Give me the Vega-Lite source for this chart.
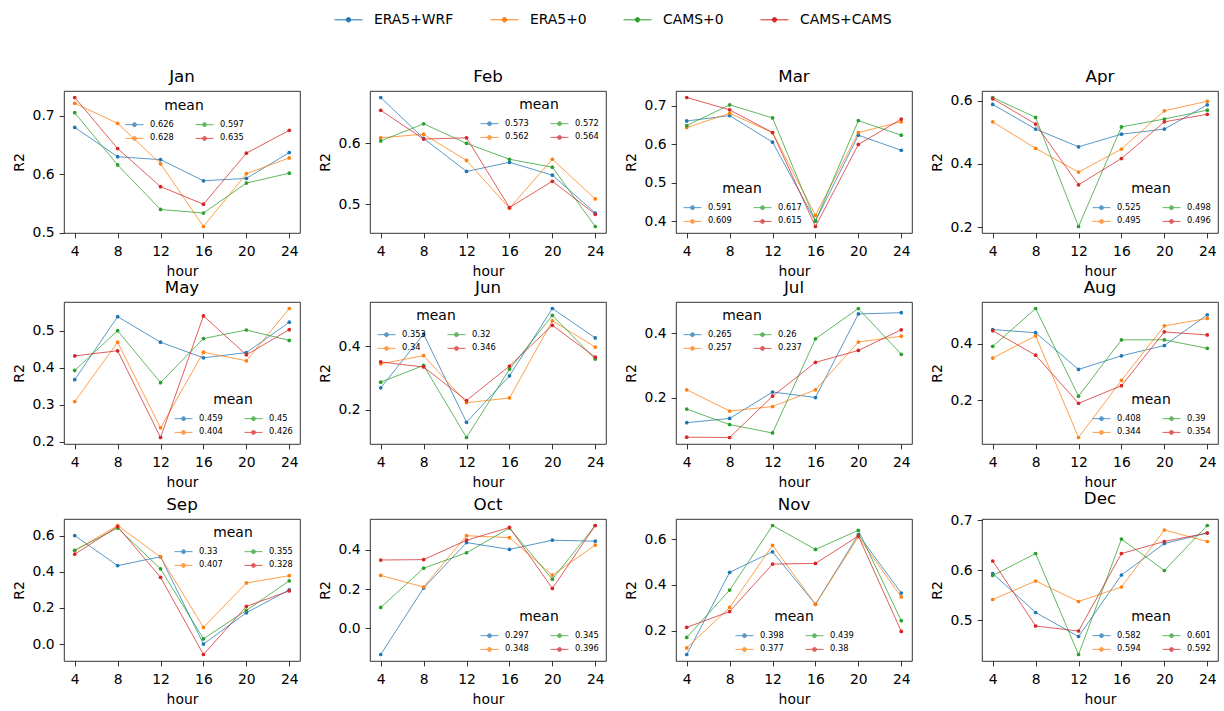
{
"$schema": "https://vega.github.io/schema/vega-lite/v6.json",
"padding": {"left": 11, "top": 0, "right": 0, "bottom": 0},
"background": "white",
"data": {"values": [
{"month":"Jan","series":"ERA5+WRF","hour":4,"R2":0.680},{"month":"Jan","series":"ERA5+WRF","hour":8,"R2":0.630},{"month":"Jan","series":"ERA5+WRF","hour":12,"R2":0.625},{"month":"Jan","series":"ERA5+WRF","hour":16,"R2":0.589},{"month":"Jan","series":"ERA5+WRF","hour":20,"R2":0.593},{"month":"Jan","series":"ERA5+WRF","hour":24,"R2":0.637},
{"month":"Jan","series":"ERA5+0","hour":4,"R2":0.721},{"month":"Jan","series":"ERA5+0","hour":8,"R2":0.687},{"month":"Jan","series":"ERA5+0","hour":12,"R2":0.618},{"month":"Jan","series":"ERA5+0","hour":16,"R2":0.511},{"month":"Jan","series":"ERA5+0","hour":20,"R2":0.601},{"month":"Jan","series":"ERA5+0","hour":24,"R2":0.628},
{"month":"Jan","series":"CAMS+0","hour":4,"R2":0.705},{"month":"Jan","series":"CAMS+0","hour":8,"R2":0.616},{"month":"Jan","series":"CAMS+0","hour":12,"R2":0.540},{"month":"Jan","series":"CAMS+0","hour":16,"R2":0.534},{"month":"Jan","series":"CAMS+0","hour":20,"R2":0.585},{"month":"Jan","series":"CAMS+0","hour":24,"R2":0.602},
{"month":"Jan","series":"CAMS+CAMS","hour":4,"R2":0.731},{"month":"Jan","series":"CAMS+CAMS","hour":8,"R2":0.644},{"month":"Jan","series":"CAMS+CAMS","hour":12,"R2":0.579},{"month":"Jan","series":"CAMS+CAMS","hour":16,"R2":0.549},{"month":"Jan","series":"CAMS+CAMS","hour":20,"R2":0.636},{"month":"Jan","series":"CAMS+CAMS","hour":24,"R2":0.675},
{"month":"Feb","series":"ERA5+WRF","hour":4,"R2":0.675},{"month":"Feb","series":"ERA5+WRF","hour":8,"R2":0.608},{"month":"Feb","series":"ERA5+WRF","hour":12,"R2":0.554},{"month":"Feb","series":"ERA5+WRF","hour":16,"R2":0.569},{"month":"Feb","series":"ERA5+WRF","hour":20,"R2":0.548},{"month":"Feb","series":"ERA5+WRF","hour":24,"R2":0.486},
{"month":"Feb","series":"ERA5+0","hour":4,"R2":0.609},{"month":"Feb","series":"ERA5+0","hour":8,"R2":0.615},{"month":"Feb","series":"ERA5+0","hour":12,"R2":0.572},{"month":"Feb","series":"ERA5+0","hour":16,"R2":0.494},{"month":"Feb","series":"ERA5+0","hour":20,"R2":0.574},{"month":"Feb","series":"ERA5+0","hour":24,"R2":0.509},
{"month":"Feb","series":"CAMS+0","hour":4,"R2":0.604},{"month":"Feb","series":"CAMS+0","hour":8,"R2":0.632},{"month":"Feb","series":"CAMS+0","hour":12,"R2":0.600},{"month":"Feb","series":"CAMS+0","hour":16,"R2":0.574},{"month":"Feb","series":"CAMS+0","hour":20,"R2":0.561},{"month":"Feb","series":"CAMS+0","hour":24,"R2":0.464},
{"month":"Feb","series":"CAMS+CAMS","hour":4,"R2":0.654},{"month":"Feb","series":"CAMS+CAMS","hour":8,"R2":0.607},{"month":"Feb","series":"CAMS+CAMS","hour":12,"R2":0.609},{"month":"Feb","series":"CAMS+CAMS","hour":16,"R2":0.495},{"month":"Feb","series":"CAMS+CAMS","hour":20,"R2":0.538},{"month":"Feb","series":"CAMS+CAMS","hour":24,"R2":0.484},
{"month":"Mar","series":"ERA5+WRF","hour":4,"R2":0.660},{"month":"Mar","series":"ERA5+WRF","hour":8,"R2":0.674},{"month":"Mar","series":"ERA5+WRF","hour":12,"R2":0.605},{"month":"Mar","series":"ERA5+WRF","hour":16,"R2":0.400},{"month":"Mar","series":"ERA5+WRF","hour":20,"R2":0.623},{"month":"Mar","series":"ERA5+WRF","hour":24,"R2":0.584},
{"month":"Mar","series":"ERA5+0","hour":4,"R2":0.643},{"month":"Mar","series":"ERA5+0","hour":8,"R2":0.680},{"month":"Mar","series":"ERA5+0","hour":12,"R2":0.630},{"month":"Mar","series":"ERA5+0","hour":16,"R2":0.415},{"month":"Mar","series":"ERA5+0","hour":20,"R2":0.630},{"month":"Mar","series":"ERA5+0","hour":24,"R2":0.658},
{"month":"Mar","series":"CAMS+0","hour":4,"R2":0.648},{"month":"Mar","series":"CAMS+0","hour":8,"R2":0.702},{"month":"Mar","series":"CAMS+0","hour":12,"R2":0.668},{"month":"Mar","series":"CAMS+0","hour":16,"R2":0.400},{"month":"Mar","series":"CAMS+0","hour":20,"R2":0.661},{"month":"Mar","series":"CAMS+0","hour":24,"R2":0.623},
{"month":"Mar","series":"CAMS+CAMS","hour":4,"R2":0.721},{"month":"Mar","series":"CAMS+CAMS","hour":8,"R2":0.689},{"month":"Mar","series":"CAMS+CAMS","hour":12,"R2":0.630},{"month":"Mar","series":"CAMS+CAMS","hour":16,"R2":0.386},{"month":"Mar","series":"CAMS+CAMS","hour":20,"R2":0.599},{"month":"Mar","series":"CAMS+CAMS","hour":24,"R2":0.665},
{"month":"Apr","series":"ERA5+WRF","hour":4,"R2":0.588},{"month":"Apr","series":"ERA5+WRF","hour":8,"R2":0.510},{"month":"Apr","series":"ERA5+WRF","hour":12,"R2":0.454},{"month":"Apr","series":"ERA5+WRF","hour":16,"R2":0.494},{"month":"Apr","series":"ERA5+WRF","hour":20,"R2":0.510},{"month":"Apr","series":"ERA5+WRF","hour":24,"R2":0.587},
{"month":"Apr","series":"ERA5+0","hour":4,"R2":0.533},{"month":"Apr","series":"ERA5+0","hour":8,"R2":0.449},{"month":"Apr","series":"ERA5+0","hour":12,"R2":0.374},{"month":"Apr","series":"ERA5+0","hour":16,"R2":0.447},{"month":"Apr","series":"ERA5+0","hour":20,"R2":0.568},{"month":"Apr","series":"ERA5+0","hour":24,"R2":0.598},
{"month":"Apr","series":"CAMS+0","hour":4,"R2":0.610},{"month":"Apr","series":"CAMS+0","hour":8,"R2":0.547},{"month":"Apr","series":"CAMS+0","hour":12,"R2":0.202},{"month":"Apr","series":"CAMS+0","hour":16,"R2":0.517},{"month":"Apr","series":"CAMS+0","hour":20,"R2":0.542},{"month":"Apr","series":"CAMS+0","hour":24,"R2":0.570},
{"month":"Apr","series":"CAMS+CAMS","hour":4,"R2":0.606},{"month":"Apr","series":"CAMS+CAMS","hour":8,"R2":0.526},{"month":"Apr","series":"CAMS+CAMS","hour":12,"R2":0.334},{"month":"Apr","series":"CAMS+CAMS","hour":16,"R2":0.417},{"month":"Apr","series":"CAMS+CAMS","hour":20,"R2":0.533},{"month":"Apr","series":"CAMS+CAMS","hour":24,"R2":0.557},
{"month":"May","series":"ERA5+WRF","hour":4,"R2":0.368},{"month":"May","series":"ERA5+WRF","hour":8,"R2":0.538},{"month":"May","series":"ERA5+WRF","hour":12,"R2":0.469},{"month":"May","series":"ERA5+WRF","hour":16,"R2":0.427},{"month":"May","series":"ERA5+WRF","hour":20,"R2":0.441},{"month":"May","series":"ERA5+WRF","hour":24,"R2":0.523},
{"month":"May","series":"ERA5+0","hour":4,"R2":0.309},{"month":"May","series":"ERA5+0","hour":8,"R2":0.469},{"month":"May","series":"ERA5+0","hour":12,"R2":0.238},{"month":"May","series":"ERA5+0","hour":16,"R2":0.442},{"month":"May","series":"ERA5+0","hour":20,"R2":0.419},{"month":"May","series":"ERA5+0","hour":24,"R2":0.560},
{"month":"May","series":"CAMS+0","hour":4,"R2":0.393},{"month":"May","series":"CAMS+0","hour":8,"R2":0.500},{"month":"May","series":"CAMS+0","hour":12,"R2":0.360},{"month":"May","series":"CAMS+0","hour":16,"R2":0.479},{"month":"May","series":"CAMS+0","hour":20,"R2":0.502},{"month":"May","series":"CAMS+0","hour":24,"R2":0.474},
{"month":"May","series":"CAMS+CAMS","hour":4,"R2":0.432},{"month":"May","series":"CAMS+CAMS","hour":8,"R2":0.446},{"month":"May","series":"CAMS+CAMS","hour":12,"R2":0.212},{"month":"May","series":"CAMS+CAMS","hour":16,"R2":0.540},{"month":"May","series":"CAMS+CAMS","hour":20,"R2":0.435},{"month":"May","series":"CAMS+CAMS","hour":24,"R2":0.503},
{"month":"Jun","series":"ERA5+WRF","hour":4,"R2":0.269},{"month":"Jun","series":"ERA5+WRF","hour":8,"R2":0.439},{"month":"Jun","series":"ERA5+WRF","hour":12,"R2":0.160},{"month":"Jun","series":"ERA5+WRF","hour":16,"R2":0.307},{"month":"Jun","series":"ERA5+WRF","hour":20,"R2":0.520},{"month":"Jun","series":"ERA5+WRF","hour":24,"R2":0.427},
{"month":"Jun","series":"ERA5+0","hour":4,"R2":0.345},{"month":"Jun","series":"ERA5+0","hour":8,"R2":0.371},{"month":"Jun","series":"ERA5+0","hour":12,"R2":0.222},{"month":"Jun","series":"ERA5+0","hour":16,"R2":0.237},{"month":"Jun","series":"ERA5+0","hour":20,"R2":0.481},{"month":"Jun","series":"ERA5+0","hour":24,"R2":0.398},
{"month":"Jun","series":"CAMS+0","hour":4,"R2":0.287},{"month":"Jun","series":"CAMS+0","hour":8,"R2":0.340},{"month":"Jun","series":"CAMS+0","hour":12,"R2":0.112},{"month":"Jun","series":"CAMS+0","hour":16,"R2":0.328},{"month":"Jun","series":"CAMS+0","hour":20,"R2":0.498},{"month":"Jun","series":"CAMS+0","hour":24,"R2":0.360},
{"month":"Jun","series":"CAMS+CAMS","hour":4,"R2":0.351},{"month":"Jun","series":"CAMS+CAMS","hour":8,"R2":0.335},{"month":"Jun","series":"CAMS+CAMS","hour":12,"R2":0.229},{"month":"Jun","series":"CAMS+CAMS","hour":16,"R2":0.338},{"month":"Jun","series":"CAMS+CAMS","hour":20,"R2":0.467},{"month":"Jun","series":"CAMS+CAMS","hour":24,"R2":0.366},
{"month":"Jul","series":"ERA5+WRF","hour":4,"R2":0.122},{"month":"Jul","series":"ERA5+WRF","hour":8,"R2":0.135},{"month":"Jul","series":"ERA5+WRF","hour":12,"R2":0.217},{"month":"Jul","series":"ERA5+WRF","hour":16,"R2":0.200},{"month":"Jul","series":"ERA5+WRF","hour":20,"R2":0.459},{"month":"Jul","series":"ERA5+WRF","hour":24,"R2":0.463},
{"month":"Jul","series":"ERA5+0","hour":4,"R2":0.224},{"month":"Jul","series":"ERA5+0","hour":8,"R2":0.158},{"month":"Jul","series":"ERA5+0","hour":12,"R2":0.172},{"month":"Jul","series":"ERA5+0","hour":16,"R2":0.224},{"month":"Jul","series":"ERA5+0","hour":20,"R2":0.372},{"month":"Jul","series":"ERA5+0","hour":24,"R2":0.390},
{"month":"Jul","series":"CAMS+0","hour":4,"R2":0.164},{"month":"Jul","series":"CAMS+0","hour":8,"R2":0.116},{"month":"Jul","series":"CAMS+0","hour":12,"R2":0.090},{"month":"Jul","series":"CAMS+0","hour":16,"R2":0.382},{"month":"Jul","series":"CAMS+0","hour":20,"R2":0.476},{"month":"Jul","series":"CAMS+0","hour":24,"R2":0.334},
{"month":"Jul","series":"CAMS+CAMS","hour":4,"R2":0.077},{"month":"Jul","series":"CAMS+CAMS","hour":8,"R2":0.076},{"month":"Jul","series":"CAMS+CAMS","hour":12,"R2":0.204},{"month":"Jul","series":"CAMS+CAMS","hour":16,"R2":0.309},{"month":"Jul","series":"CAMS+CAMS","hour":20,"R2":0.346},{"month":"Jul","series":"CAMS+CAMS","hour":24,"R2":0.410},
{"month":"Aug","series":"ERA5+WRF","hour":4,"R2":0.449},{"month":"Aug","series":"ERA5+WRF","hour":8,"R2":0.438},{"month":"Aug","series":"ERA5+WRF","hour":12,"R2":0.309},{"month":"Aug","series":"ERA5+WRF","hour":16,"R2":0.357},{"month":"Aug","series":"ERA5+WRF","hour":20,"R2":0.393},{"month":"Aug","series":"ERA5+WRF","hour":24,"R2":0.501},
{"month":"Aug","series":"ERA5+0","hour":4,"R2":0.349},{"month":"Aug","series":"ERA5+0","hour":8,"R2":0.427},{"month":"Aug","series":"ERA5+0","hour":12,"R2":0.070},{"month":"Aug","series":"ERA5+0","hour":16,"R2":0.271},{"month":"Aug","series":"ERA5+0","hour":20,"R2":0.462},{"month":"Aug","series":"ERA5+0","hour":24,"R2":0.488},
{"month":"Aug","series":"CAMS+0","hour":4,"R2":0.390},{"month":"Aug","series":"CAMS+0","hour":8,"R2":0.523},{"month":"Aug","series":"CAMS+0","hour":12,"R2":0.215},{"month":"Aug","series":"CAMS+0","hour":16,"R2":0.413},{"month":"Aug","series":"CAMS+0","hour":20,"R2":0.413},{"month":"Aug","series":"CAMS+0","hour":24,"R2":0.383},
{"month":"Aug","series":"CAMS+CAMS","hour":4,"R2":0.445},{"month":"Aug","series":"CAMS+CAMS","hour":8,"R2":0.359},{"month":"Aug","series":"CAMS+CAMS","hour":12,"R2":0.190},{"month":"Aug","series":"CAMS+CAMS","hour":16,"R2":0.252},{"month":"Aug","series":"CAMS+CAMS","hour":20,"R2":0.441},{"month":"Aug","series":"CAMS+CAMS","hour":24,"R2":0.430},
{"month":"Sep","series":"ERA5+WRF","hour":4,"R2":0.600},{"month":"Sep","series":"ERA5+WRF","hour":8,"R2":0.434},{"month":"Sep","series":"ERA5+WRF","hour":12,"R2":0.483},{"month":"Sep","series":"ERA5+WRF","hour":16,"R2":0.000},{"month":"Sep","series":"ERA5+WRF","hour":20,"R2":0.173},{"month":"Sep","series":"ERA5+WRF","hour":24,"R2":0.300},
{"month":"Sep","series":"ERA5+0","hour":4,"R2":0.517},{"month":"Sep","series":"ERA5+0","hour":8,"R2":0.656},{"month":"Sep","series":"ERA5+0","hour":12,"R2":0.482},{"month":"Sep","series":"ERA5+0","hour":16,"R2":0.092},{"month":"Sep","series":"ERA5+0","hour":20,"R2":0.338},{"month":"Sep","series":"ERA5+0","hour":24,"R2":0.378},
{"month":"Sep","series":"CAMS+0","hour":4,"R2":0.519},{"month":"Sep","series":"CAMS+0","hour":8,"R2":0.642},{"month":"Sep","series":"CAMS+0","hour":12,"R2":0.416},{"month":"Sep","series":"CAMS+0","hour":16,"R2":0.029},{"month":"Sep","series":"CAMS+0","hour":20,"R2":0.186},{"month":"Sep","series":"CAMS+0","hour":24,"R2":0.350},
{"month":"Sep","series":"CAMS+CAMS","hour":4,"R2":0.497},{"month":"Sep","series":"CAMS+CAMS","hour":8,"R2":0.650},{"month":"Sep","series":"CAMS+CAMS","hour":12,"R2":0.369},{"month":"Sep","series":"CAMS+CAMS","hour":16,"R2":-0.058},{"month":"Sep","series":"CAMS+CAMS","hour":20,"R2":0.208},{"month":"Sep","series":"CAMS+CAMS","hour":24,"R2":0.294},
{"month":"Oct","series":"ERA5+WRF","hour":4,"R2":-0.134},{"month":"Oct","series":"ERA5+WRF","hour":8,"R2":0.205},{"month":"Oct","series":"ERA5+WRF","hour":12,"R2":0.437},{"month":"Oct","series":"ERA5+WRF","hour":16,"R2":0.402},{"month":"Oct","series":"ERA5+WRF","hour":20,"R2":0.449},{"month":"Oct","series":"ERA5+WRF","hour":24,"R2":0.444},
{"month":"Oct","series":"ERA5+0","hour":4,"R2":0.269},{"month":"Oct","series":"ERA5+0","hour":8,"R2":0.210},{"month":"Oct","series":"ERA5+0","hour":12,"R2":0.472},{"month":"Oct","series":"ERA5+0","hour":16,"R2":0.462},{"month":"Oct","series":"ERA5+0","hour":20,"R2":0.271},{"month":"Oct","series":"ERA5+0","hour":24,"R2":0.424},
{"month":"Oct","series":"CAMS+0","hour":4,"R2":0.106},{"month":"Oct","series":"CAMS+0","hour":8,"R2":0.306},{"month":"Oct","series":"CAMS+0","hour":12,"R2":0.385},{"month":"Oct","series":"CAMS+0","hour":16,"R2":0.511},{"month":"Oct","series":"CAMS+0","hour":20,"R2":0.250},{"month":"Oct","series":"CAMS+0","hour":24,"R2":0.524},
{"month":"Oct","series":"CAMS+CAMS","hour":4,"R2":0.348},{"month":"Oct","series":"CAMS+CAMS","hour":8,"R2":0.350},{"month":"Oct","series":"CAMS+CAMS","hour":12,"R2":0.449},{"month":"Oct","series":"CAMS+CAMS","hour":16,"R2":0.514},{"month":"Oct","series":"CAMS+CAMS","hour":20,"R2":0.203},{"month":"Oct","series":"CAMS+CAMS","hour":24,"R2":0.524},
{"month":"Nov","series":"ERA5+WRF","hour":4,"R2":0.095},{"month":"Nov","series":"ERA5+WRF","hour":8,"R2":0.455},{"month":"Nov","series":"ERA5+WRF","hour":12,"R2":0.545},{"month":"Nov","series":"ERA5+WRF","hour":16,"R2":0.315},{"month":"Nov","series":"ERA5+WRF","hour":20,"R2":0.620},{"month":"Nov","series":"ERA5+WRF","hour":24,"R2":0.364},
{"month":"Nov","series":"ERA5+0","hour":4,"R2":0.124},{"month":"Nov","series":"ERA5+0","hour":8,"R2":0.301},{"month":"Nov","series":"ERA5+0","hour":12,"R2":0.573},{"month":"Nov","series":"ERA5+0","hour":16,"R2":0.315},{"month":"Nov","series":"ERA5+0","hour":20,"R2":0.610},{"month":"Nov","series":"ERA5+0","hour":24,"R2":0.347},
{"month":"Nov","series":"CAMS+0","hour":4,"R2":0.170},{"month":"Nov","series":"CAMS+0","hour":8,"R2":0.377},{"month":"Nov","series":"CAMS+0","hour":12,"R2":0.660},{"month":"Nov","series":"CAMS+0","hour":16,"R2":0.555},{"month":"Nov","series":"CAMS+0","hour":20,"R2":0.639},{"month":"Nov","series":"CAMS+0","hour":24,"R2":0.243},
{"month":"Nov","series":"CAMS+CAMS","hour":4,"R2":0.214},{"month":"Nov","series":"CAMS+CAMS","hour":8,"R2":0.283},{"month":"Nov","series":"CAMS+CAMS","hour":12,"R2":0.491},{"month":"Nov","series":"CAMS+CAMS","hour":16,"R2":0.494},{"month":"Nov","series":"CAMS+CAMS","hour":20,"R2":0.614},{"month":"Nov","series":"CAMS+CAMS","hour":24,"R2":0.196},
{"month":"Dec","series":"ERA5+WRF","hour":4,"R2":0.593},{"month":"Dec","series":"ERA5+WRF","hour":8,"R2":0.515},{"month":"Dec","series":"ERA5+WRF","hour":12,"R2":0.467},{"month":"Dec","series":"ERA5+WRF","hour":16,"R2":0.590},{"month":"Dec","series":"ERA5+WRF","hour":20,"R2":0.653},{"month":"Dec","series":"ERA5+WRF","hour":24,"R2":0.674},
{"month":"Dec","series":"ERA5+0","hour":4,"R2":0.541},{"month":"Dec","series":"ERA5+0","hour":8,"R2":0.578},{"month":"Dec","series":"ERA5+0","hour":12,"R2":0.537},{"month":"Dec","series":"ERA5+0","hour":16,"R2":0.566},{"month":"Dec","series":"ERA5+0","hour":20,"R2":0.680},{"month":"Dec","series":"ERA5+0","hour":24,"R2":0.657},
{"month":"Dec","series":"CAMS+0","hour":4,"R2":0.589},{"month":"Dec","series":"CAMS+0","hour":8,"R2":0.633},{"month":"Dec","series":"CAMS+0","hour":12,"R2":0.431},{"month":"Dec","series":"CAMS+0","hour":16,"R2":0.662},{"month":"Dec","series":"CAMS+0","hour":20,"R2":0.599},{"month":"Dec","series":"CAMS+0","hour":24,"R2":0.689},
{"month":"Dec","series":"CAMS+CAMS","hour":4,"R2":0.618},{"month":"Dec","series":"CAMS+CAMS","hour":8,"R2":0.488},{"month":"Dec","series":"CAMS+CAMS","hour":12,"R2":0.478},{"month":"Dec","series":"CAMS+CAMS","hour":16,"R2":0.633},{"month":"Dec","series":"CAMS+CAMS","hour":20,"R2":0.657},{"month":"Dec","series":"CAMS+CAMS","hour":24,"R2":0.674}
]},
"spacing": 37,
"resolve": {"scale": {"color": "independent"}, "legend": {"color": "independent"}},
"vconcat": [
{
 "width": 1180, "height": 30,
 "view": {"stroke": null},
 "transform": [{"filter": "datum.month == 'Jan'"}],
 "encoding": {
   "x": {"field": "hour", "type": "quantitative", "axis": null},
   "y": {"field": "R2", "type": "quantitative", "axis": null},
   "color": {"field": "series", "type": "nominal",
   "scale": {"domain": ["ERA5+WRF","ERA5+0","CAMS+0","CAMS+CAMS"], "range": ["#1f77b4","#ff7f0e","#2ca02c","#d62728"]},
   "legend": {"title": null, "orient": "none", "legendX": 270, "legendY": 4, "direction": "horizontal", "columns": 4,
     "symbolType": "M-1,0H1M-0.16,0A0.16,0.16,0,1,0,0.16,0A0.16,0.16,0,1,0,-0.16,0Z",
     "symbolSize": 784, "labelFontSize": 13.9, "labelOffset": 11, "columnPadding": 34}}},
 "layer": [{"mark": {"type": "line", "opacity": 0}}, {"mark": {"type": "point", "filled": true, "opacity": 0}}]
},
{
 "columns": 4,
 "spacing": {"row": 0, "column": 16},
 "resolve": {"scale": {"x": "independent", "y": "independent", "color": "independent"}, "legend": {"color": "independent"}},
 "concat": [
  {"title": "Jan", "width": 236, "height": 142, "transform": [{"filter": "datum.month == 'Jan'"}],
   "encoding": {
    "x": {"field": "hour", "type": "quantitative", "scale": {"domain": [3, 25], "nice": false, "zero": false}, "axis": {"values": [4,8,12,16,20,24], "title": "hour"}},
    "y": {"field": "R2", "type": "quantitative", "scale": {"zero": false, "nice": false, "padding": 6.5}, "axis": {"values": [0.5,0.6,0.7], "format": ".1f", "title": "R2"}},
    "color": {"field": "series", "type": "nominal", "scale": {"domain": ["ERA5+WRF","ERA5+0","CAMS+0","CAMS+CAMS"], "range": ["#1f77b4","#ff7f0e","#2ca02c","#d62728"]},
      "legend": {"title": "mean", "orient": "none", "legendX": 61, "legendY": 8,
        "labelExpr": "datum.label=='ERA5+WRF'?'0.626':datum.label=='ERA5+0'?'0.628':datum.label=='CAMS+0'?'0.597':'0.635'"}}},
   "layer": [{"mark": {"type": "line", "strokeWidth": 1, "opacity": 0.75}}, {"mark": {"type": "point", "filled": true, "size": 14, "opacity": 1}}]},
  {"title": "Feb", "width": 236, "height": 142, "transform": [{"filter": "datum.month == 'Feb'"}],
   "encoding": {
    "x": {"field": "hour", "type": "quantitative", "scale": {"domain": [3, 25], "nice": false, "zero": false}, "axis": {"values": [4,8,12,16,20,24], "title": "hour"}},
    "y": {"field": "R2", "type": "quantitative", "scale": {"zero": false, "nice": false, "padding": 6.5}, "axis": {"values": [0.5,0.6], "format": ".1f", "title": "R2"}},
    "color": {"field": "series", "type": "nominal", "scale": {"domain": ["ERA5+WRF","ERA5+0","CAMS+0","CAMS+CAMS"], "range": ["#1f77b4","#ff7f0e","#2ca02c","#d62728"]},
      "legend": {"title": "mean", "orient": "top-right",
        "labelExpr": "datum.label=='ERA5+WRF'?'0.573':datum.label=='ERA5+0'?'0.562':datum.label=='CAMS+0'?'0.572':'0.564'"}}},
   "layer": [{"mark": {"type": "line", "strokeWidth": 1, "opacity": 0.75}}, {"mark": {"type": "point", "filled": true, "size": 14, "opacity": 1}}]},
  {"title": "Mar", "width": 236, "height": 142, "transform": [{"filter": "datum.month == 'Mar'"}],
   "encoding": {
    "x": {"field": "hour", "type": "quantitative", "scale": {"domain": [3, 25], "nice": false, "zero": false}, "axis": {"values": [4,8,12,16,20,24], "title": "hour"}},
    "y": {"field": "R2", "type": "quantitative", "scale": {"zero": false, "nice": false, "padding": 6.5}, "axis": {"values": [0.4,0.5,0.6,0.7], "format": ".1f", "title": "R2"}},
    "color": {"field": "series", "type": "nominal", "scale": {"domain": ["ERA5+WRF","ERA5+0","CAMS+0","CAMS+CAMS"], "range": ["#1f77b4","#ff7f0e","#2ca02c","#d62728"]},
      "legend": {"title": "mean", "orient": "bottom-left",
        "labelExpr": "datum.label=='ERA5+WRF'?'0.591':datum.label=='ERA5+0'?'0.609':datum.label=='CAMS+0'?'0.617':'0.615'"}}},
   "layer": [{"mark": {"type": "line", "strokeWidth": 1, "opacity": 0.75}}, {"mark": {"type": "point", "filled": true, "size": 14, "opacity": 1}}]},
  {"title": "Apr", "width": 236, "height": 142, "transform": [{"filter": "datum.month == 'Apr'"}],
   "encoding": {
    "x": {"field": "hour", "type": "quantitative", "scale": {"domain": [3, 25], "nice": false, "zero": false}, "axis": {"values": [4,8,12,16,20,24], "title": "hour"}},
    "y": {"field": "R2", "type": "quantitative", "scale": {"zero": false, "nice": false, "padding": 6.5}, "axis": {"values": [0.2,0.4,0.6], "format": ".1f", "title": "R2"}},
    "color": {"field": "series", "type": "nominal", "scale": {"domain": ["ERA5+WRF","ERA5+0","CAMS+0","CAMS+CAMS"], "range": ["#1f77b4","#ff7f0e","#2ca02c","#d62728"]},
      "legend": {"title": "mean", "orient": "bottom-right",
        "labelExpr": "datum.label=='ERA5+WRF'?'0.525':datum.label=='ERA5+0'?'0.495':datum.label=='CAMS+0'?'0.498':'0.496'"}}},
   "layer": [{"mark": {"type": "line", "strokeWidth": 1, "opacity": 0.75}}, {"mark": {"type": "point", "filled": true, "size": 14, "opacity": 1}}]},
  {"title": "May", "width": 236, "height": 142, "transform": [{"filter": "datum.month == 'May'"}],
   "encoding": {
    "x": {"field": "hour", "type": "quantitative", "scale": {"domain": [3, 25], "nice": false, "zero": false}, "axis": {"values": [4,8,12,16,20,24], "title": "hour"}},
    "y": {"field": "R2", "type": "quantitative", "scale": {"zero": false, "nice": false, "padding": 6.5}, "axis": {"values": [0.2,0.3,0.4,0.5], "format": ".1f", "title": "R2"}},
    "color": {"field": "series", "type": "nominal", "scale": {"domain": ["ERA5+WRF","ERA5+0","CAMS+0","CAMS+CAMS"], "range": ["#1f77b4","#ff7f0e","#2ca02c","#d62728"]},
      "legend": {"title": "mean", "orient": "bottom-right",
        "labelExpr": "datum.label=='ERA5+WRF'?'0.459':datum.label=='ERA5+0'?'0.404':datum.label=='CAMS+0'?'0.45':'0.426'"}}},
   "layer": [{"mark": {"type": "line", "strokeWidth": 1, "opacity": 0.75}}, {"mark": {"type": "point", "filled": true, "size": 14, "opacity": 1}}]},
  {"title": "Jun", "width": 236, "height": 142, "transform": [{"filter": "datum.month == 'Jun'"}],
   "encoding": {
    "x": {"field": "hour", "type": "quantitative", "scale": {"domain": [3, 25], "nice": false, "zero": false}, "axis": {"values": [4,8,12,16,20,24], "title": "hour"}},
    "y": {"field": "R2", "type": "quantitative", "scale": {"zero": false, "nice": false, "padding": 6.5}, "axis": {"values": [0.2,0.4], "format": ".1f", "title": "R2"}},
    "color": {"field": "series", "type": "nominal", "scale": {"domain": ["ERA5+WRF","ERA5+0","CAMS+0","CAMS+CAMS"], "range": ["#1f77b4","#ff7f0e","#2ca02c","#d62728"]},
      "legend": {"title": "mean", "orient": "top-left",
        "labelExpr": "datum.label=='ERA5+WRF'?'0.353':datum.label=='ERA5+0'?'0.34':datum.label=='CAMS+0'?'0.32':'0.346'"}}},
   "layer": [{"mark": {"type": "line", "strokeWidth": 1, "opacity": 0.75}}, {"mark": {"type": "point", "filled": true, "size": 14, "opacity": 1}}]},
  {"title": "Jul", "width": 236, "height": 142, "transform": [{"filter": "datum.month == 'Jul'"}],
   "encoding": {
    "x": {"field": "hour", "type": "quantitative", "scale": {"domain": [3, 25], "nice": false, "zero": false}, "axis": {"values": [4,8,12,16,20,24], "title": "hour"}},
    "y": {"field": "R2", "type": "quantitative", "scale": {"zero": false, "nice": false, "padding": 6.5}, "axis": {"values": [0.2,0.4], "format": ".1f", "title": "R2"}},
    "color": {"field": "series", "type": "nominal", "scale": {"domain": ["ERA5+WRF","ERA5+0","CAMS+0","CAMS+CAMS"], "range": ["#1f77b4","#ff7f0e","#2ca02c","#d62728"]},
      "legend": {"title": "mean", "orient": "top-left",
        "labelExpr": "datum.label=='ERA5+WRF'?'0.265':datum.label=='ERA5+0'?'0.257':datum.label=='CAMS+0'?'0.26':'0.237'"}}},
   "layer": [{"mark": {"type": "line", "strokeWidth": 1, "opacity": 0.75}}, {"mark": {"type": "point", "filled": true, "size": 14, "opacity": 1}}]},
  {"title": "Aug", "width": 236, "height": 142, "transform": [{"filter": "datum.month == 'Aug'"}],
   "encoding": {
    "x": {"field": "hour", "type": "quantitative", "scale": {"domain": [3, 25], "nice": false, "zero": false}, "axis": {"values": [4,8,12,16,20,24], "title": "hour"}},
    "y": {"field": "R2", "type": "quantitative", "scale": {"zero": false, "nice": false, "padding": 6.5}, "axis": {"values": [0.2,0.4], "format": ".1f", "title": "R2"}},
    "color": {"field": "series", "type": "nominal", "scale": {"domain": ["ERA5+WRF","ERA5+0","CAMS+0","CAMS+CAMS"], "range": ["#1f77b4","#ff7f0e","#2ca02c","#d62728"]},
      "legend": {"title": "mean", "orient": "bottom-right",
        "labelExpr": "datum.label=='ERA5+WRF'?'0.408':datum.label=='ERA5+0'?'0.344':datum.label=='CAMS+0'?'0.39':'0.354'"}}},
   "layer": [{"mark": {"type": "line", "strokeWidth": 1, "opacity": 0.75}}, {"mark": {"type": "point", "filled": true, "size": 14, "opacity": 1}}]},
  {"title": "Sep", "width": 236, "height": 142, "transform": [{"filter": "datum.month == 'Sep'"}],
   "encoding": {
    "x": {"field": "hour", "type": "quantitative", "scale": {"domain": [3, 25], "nice": false, "zero": false}, "axis": {"values": [4,8,12,16,20,24], "title": "hour"}},
    "y": {"field": "R2", "type": "quantitative", "scale": {"zero": false, "nice": false, "padding": 6.5}, "axis": {"values": [0,0.2,0.4,0.6], "format": ".1f", "title": "R2"}},
    "color": {"field": "series", "type": "nominal", "scale": {"domain": ["ERA5+WRF","ERA5+0","CAMS+0","CAMS+CAMS"], "range": ["#1f77b4","#ff7f0e","#2ca02c","#d62728"]},
      "legend": {"title": "mean", "orient": "top-right",
        "labelExpr": "datum.label=='ERA5+WRF'?'0.33':datum.label=='ERA5+0'?'0.407':datum.label=='CAMS+0'?'0.355':'0.328'"}}},
   "layer": [{"mark": {"type": "line", "strokeWidth": 1, "opacity": 0.75}}, {"mark": {"type": "point", "filled": true, "size": 14, "opacity": 1}}]},
  {"title": "Oct", "width": 236, "height": 142, "transform": [{"filter": "datum.month == 'Oct'"}],
   "encoding": {
    "x": {"field": "hour", "type": "quantitative", "scale": {"domain": [3, 25], "nice": false, "zero": false}, "axis": {"values": [4,8,12,16,20,24], "title": "hour"}},
    "y": {"field": "R2", "type": "quantitative", "scale": {"zero": false, "nice": false, "padding": 6.5}, "axis": {"values": [0,0.2,0.4], "format": ".1f", "title": "R2"}},
    "color": {"field": "series", "type": "nominal", "scale": {"domain": ["ERA5+WRF","ERA5+0","CAMS+0","CAMS+CAMS"], "range": ["#1f77b4","#ff7f0e","#2ca02c","#d62728"]},
      "legend": {"title": "mean", "orient": "bottom-right",
        "labelExpr": "datum.label=='ERA5+WRF'?'0.297':datum.label=='ERA5+0'?'0.348':datum.label=='CAMS+0'?'0.345':'0.396'"}}},
   "layer": [{"mark": {"type": "line", "strokeWidth": 1, "opacity": 0.75}}, {"mark": {"type": "point", "filled": true, "size": 14, "opacity": 1}}]},
  {"title": "Nov", "width": 236, "height": 142, "transform": [{"filter": "datum.month == 'Nov'"}],
   "encoding": {
    "x": {"field": "hour", "type": "quantitative", "scale": {"domain": [3, 25], "nice": false, "zero": false}, "axis": {"values": [4,8,12,16,20,24], "title": "hour"}},
    "y": {"field": "R2", "type": "quantitative", "scale": {"zero": false, "nice": false, "padding": 6.5}, "axis": {"values": [0.2,0.4,0.6], "format": ".1f", "title": "R2"}},
    "color": {"field": "series", "type": "nominal", "scale": {"domain": ["ERA5+WRF","ERA5+0","CAMS+0","CAMS+CAMS"], "range": ["#1f77b4","#ff7f0e","#2ca02c","#d62728"]},
      "legend": {"title": "mean", "orient": "none", "legendX": 59, "legendY": 91,
        "labelExpr": "datum.label=='ERA5+WRF'?'0.398':datum.label=='ERA5+0'?'0.377':datum.label=='CAMS+0'?'0.439':'0.38'"}}},
   "layer": [{"mark": {"type": "line", "strokeWidth": 1, "opacity": 0.75}}, {"mark": {"type": "point", "filled": true, "size": 14, "opacity": 1}}]},
  {"title": "Dec", "width": 236, "height": 142, "transform": [{"filter": "datum.month == 'Dec'"}],
   "encoding": {
    "x": {"field": "hour", "type": "quantitative", "scale": {"domain": [3, 25], "nice": false, "zero": false}, "axis": {"values": [4,8,12,16,20,24], "title": "hour"}},
    "y": {"field": "R2", "type": "quantitative", "scale": {"zero": false, "nice": false, "padding": 6.5}, "axis": {"values": [0.5,0.6,0.7], "format": ".1f", "title": "R2"}},
    "color": {"field": "series", "type": "nominal", "scale": {"domain": ["ERA5+WRF","ERA5+0","CAMS+0","CAMS+CAMS"], "range": ["#1f77b4","#ff7f0e","#2ca02c","#d62728"]},
      "legend": {"title": "mean", "orient": "bottom-right",
        "labelExpr": "datum.label=='ERA5+WRF'?'0.582':datum.label=='ERA5+0'?'0.594':datum.label=='CAMS+0'?'0.601':'0.592'"}}},
   "layer": [{"mark": {"type": "line", "strokeWidth": 1, "opacity": 0.75}}, {"mark": {"type": "point", "filled": true, "size": 14, "opacity": 1}}]}
 ]
}
],
"config": {
 "font": "DejaVu Sans",
 "view": {"stroke": "black", "strokeWidth": 0.8},
 "axis": {"domain": false, "grid": false, "tickColor": "black", "tickSize": 4.9, "tickWidth": 0.8, "labelColor": "black", "labelFontSize": 13.9, "labelPadding": 4.9, "labelFlush": false, "titleColor": "black", "titleFontSize": 13.9, "titleFontWeight": "normal", "titlePadding": 5},
 "axisX": {"labelPadding": 6.5, "titlePadding": 6},
 "axisY": {"titlePadding": 6},
 "title": {"fontSize": 16.7, "fontWeight": "normal", "color": "black", "offset": 5.5},
 "legend": {"columns": 2, "symbolType": "M-1,0H1M-0.22,0A0.22,0.22,0,1,0,0.22,0A0.22,0.22,0,1,0,-0.22,0Z", "symbolSize": 324, "symbolStrokeWidth": 1, "labelFontSize": 8.3, "labelOffset": 6, "columnPadding": 19, "rowPadding": 0, "titleFontSize": 13.9, "titleFontWeight": "normal", "titleAnchor": "middle", "titlePadding": 2, "padding": 0, "offset": 7, "labelColor": "black", "titleColor": "black"}
}
}
